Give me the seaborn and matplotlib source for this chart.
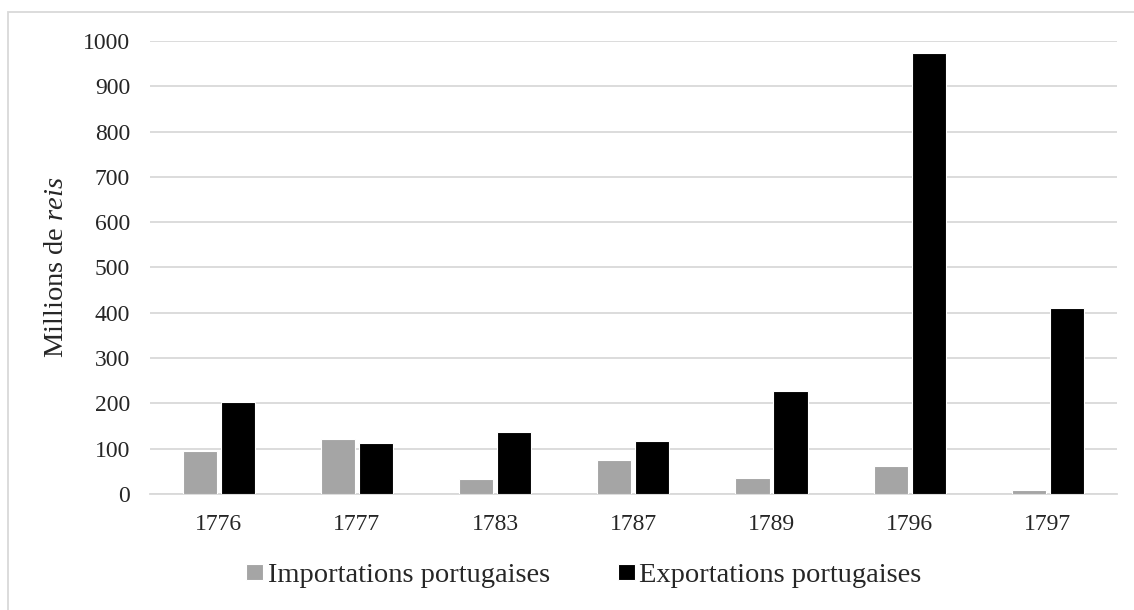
import numpy as np
import pandas as pd
import seaborn as sns
import matplotlib.pyplot as plt
from matplotlib.patches import Rectangle

# Data (millions de reis)
years = ['1776', '1777', '1783', '1787', '1789', '1796', '1797']
importations = [95, 121, 34, 75, 36, 63, 10]
exportations = [204, 113, 137, 117, 228, 973, 411]
series_names = ['Importations portugaises', 'Exportations portugaises']

data = pd.DataFrame({
    'Année': years * 2,
    'Valeur': importations + exportations,
    'Série': [series_names[0]] * len(years) + [series_names[1]] * len(years),
})

sns.set_style('white')
plt.rcParams['font.family'] = ['Liberation Serif', 'DejaVu Serif']
plt.rcParams['mathtext.fontset'] = 'custom'
plt.rcParams['mathtext.it'] = 'Liberation Serif:italic'
plt.rcParams['mathtext.rm'] = 'Liberation Serif'

fig = plt.figure(figsize=(11.34, 6.1), dpi=100)
ax = fig.add_axes([0.132, 0.19, 0.853, 0.743])

sns.barplot(data=data, x='Année', y='Valeur', hue='Série',
            palette=['#a5a5a5', '#000000'], width=0.55, gap=0.1,
            edgecolor='white', linewidth=0.8, ax=ax, zorder=3)

ax.set_ylim(0, 1000)
ax.set_yticks(np.arange(0, 1001, 100))
ax.yaxis.grid(True, color='#d9d9d9', linewidth=1.3, zorder=0)
ax.set_axisbelow(True)
for s in ['top', 'right', 'left']:
    ax.spines[s].set_visible(False)
ax.spines['bottom'].set_color('#d9d9d9')
ax.spines['bottom'].set_linewidth(1.3)
ax.tick_params(axis='both', length=0, labelsize=17)
ax.tick_params(axis='x', pad=14)
ax.tick_params(axis='y', pad=14)

ax.set_xlabel('')
ax.set_ylabel('Millions de $\\mathit{reis}$', fontsize=20.5, labelpad=10)

ax.legend(loc='center', bbox_to_anchor=(0.449, -0.179), ncol=2,
          frameon=False, fontsize=20.5, handlelength=0.6, handleheight=0.5,
          handletextpad=0.15, columnspacing=2.4)

# light frame around the chart (cut off at right and bottom as in the source)
fig.patches.append(Rectangle((8 / 1134, -0.1), 1.2, (598 / 610) + 0.1,
                             transform=fig.transFigure, fill=False,
                             edgecolor='#d9d9d9', linewidth=1.3))

plt.savefig('out.png', dpi=100)
